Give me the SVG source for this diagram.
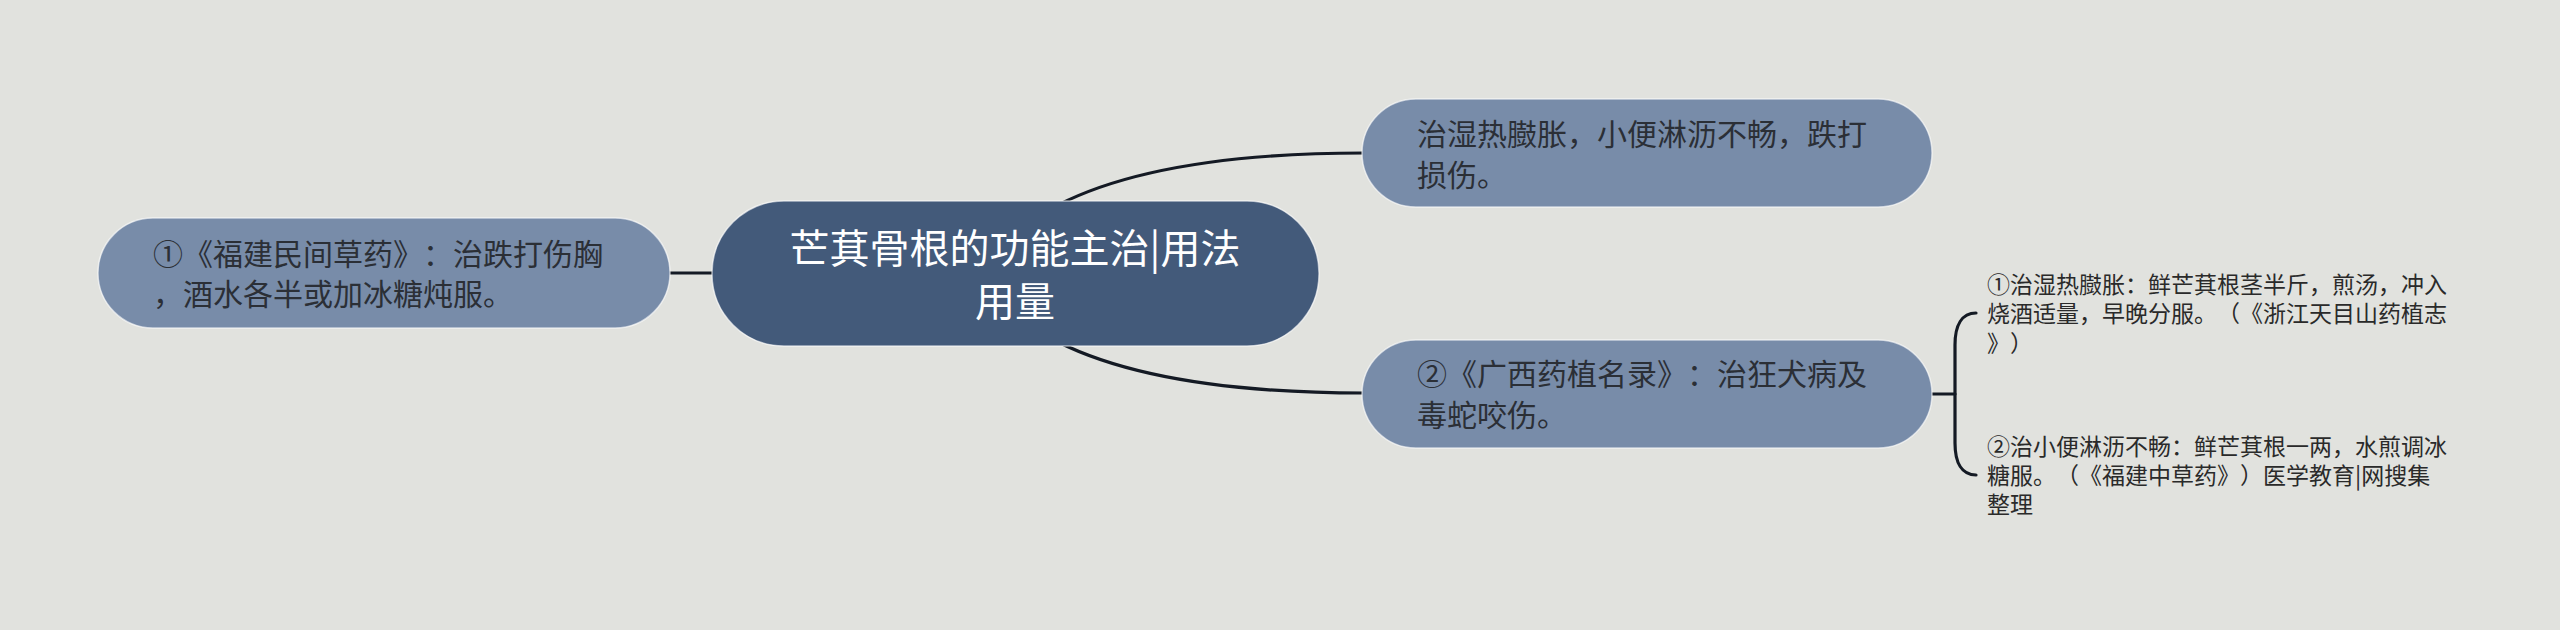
<svg xmlns="http://www.w3.org/2000/svg" width="2560" height="630" viewBox="0 0 2560 630">
<style>
.bg{fill:#e1e2de}
.root{fill:#435a7a;stroke:#ffffff;stroke-opacity:0.6;stroke-width:1.5}
.child{fill:#788ca9;stroke:#ffffff;stroke-opacity:0.6;stroke-width:1.5}
.link{fill:none;stroke:#141a24;stroke-width:3.2;stroke-linecap:round}
.t{font-family:"Noto Sans CJK SC","Noto Sans",sans-serif;text-spacing-trim:space-all;font-kerning:none}
.rt{font-size:40px;fill:#ffffff;text-anchor:middle}
.ct{font-size:30px;fill:#2b2f36}
.lt{font-size:23px;fill:#2a2a2a}
</style>
<rect class="bg" x="0" y="0" width="2560" height="630"/>
<g id="connectors">
  <path class="link" d="M669,273 L716,273"/>
  <path class="link" d="M1058,205 Q1160,153 1364,153"/>
  <path class="link" d="M1058,342 Q1160,393 1364,393"/>
  <path class="link" d="M1930,394 L1955,394"/>
  <path class="link" d="M1976,313 C1962,313 1955,325 1955,345 L1955,443 C1955,463 1962,475 1976,475"/>
</g>
<g id="node-left">
  <rect class="child" x="98" y="218" width="572" height="110" rx="55" ry="55"/>
  <text class="t ct" x="153" y="265">①《福建民间草药》：治跌打伤胸</text>
  <text class="t ct" x="153" y="305">，酒水各半或加冰糖炖服。</text>
</g>
<g id="node-root">
  <rect class="root" x="712" y="201" width="607" height="145" rx="72" ry="72"/>
  <text class="t rt" x="1015" y="263">芒萁骨根的功能主治|用法</text>
  <text class="t rt" x="1015" y="316">用量</text>
</g>
<g id="node-top-right">
  <rect class="child" x="1362" y="99" width="570" height="108" rx="54" ry="54"/>
  <text class="t ct" x="1417" y="145">治湿热臌胀，小便淋沥不畅，跌打</text>
  <text class="t ct" x="1417" y="186">损伤。</text>
</g>
<g id="node-bottom-right">
  <rect class="child" x="1362" y="340" width="570" height="108" rx="54" ry="54"/>
  <text class="t ct" x="1417" y="385">②《广西药植名录》：治狂犬病及</text>
  <text class="t ct" x="1417" y="426">毒蛇咬伤。</text>
</g>
<g id="leaf-1">
  <text class="t lt" x="1987" y="293">①治湿热臌胀：鲜芒萁根茎半斤，煎汤，冲入</text>
  <text class="t lt" x="1987" y="322">烧酒适量，早晚分服。（《浙江天目山药植志</text>
  <text class="t lt" x="1987" y="352">》）</text>
</g>
<g id="leaf-2">
  <text class="t lt" x="1987" y="455">②治小便淋沥不畅：鲜芒萁根一两，水煎调冰</text>
  <text class="t lt" x="1987" y="484">糖服。（《福建中草药》）医学教育|网搜集</text>
  <text class="t lt" x="1987" y="513">整理</text>
</g>
</svg>
